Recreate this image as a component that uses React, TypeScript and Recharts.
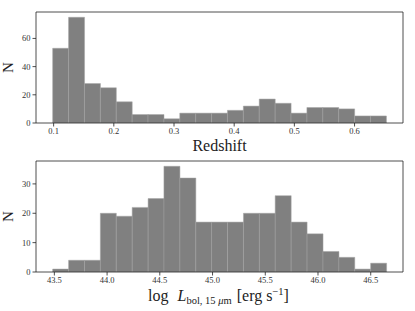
import React from 'react';
import { ComposedChart, Bar, XAxis, YAxis, ReferenceLine } from 'recharts';

// Redshift histogram (bin centres + counts)
const Z_BINS = [
  0.1116, 0.138, 0.1644, 0.1908, 0.2172, 0.2436, 0.27, 0.2964, 0.3228, 0.3492, 0.3756,
  0.402, 0.4284, 0.4548, 0.4812, 0.5076, 0.534, 0.5604, 0.5868, 0.6132, 0.6396,
];
const Z_COUNTS = [53, 75, 28, 25, 15, 6, 6, 3, 7, 7, 7, 9, 12, 17, 14, 7, 11, 11, 10, 5, 5];
const Z_TICKS = [0.1, 0.2, 0.3, 0.4, 0.5, 0.6];
const Z_N_TICKS = [0, 20, 40, 60];

// log L_bol histogram
const L_BINS = [
  43.559, 43.71, 43.861, 44.011, 44.162, 44.313, 44.464, 44.614, 44.765, 44.916, 45.066,
  45.217, 45.368, 45.519, 45.669, 45.82, 45.971, 46.122, 46.272, 46.423, 46.574,
];
const L_COUNTS = [1, 4, 4, 20, 19, 22, 25, 36, 32, 17, 17, 17, 20, 20, 26, 17, 13, 7, 5, 1, 3];
const L_TICKS = [43.5, 44.0, 44.5, 45.0, 45.5, 46.0, 46.5];
const L_N_TICKS = [0, 10, 20, 30];

const zData = Z_BINS.map((x, i) => ({ x, n: Z_COUNTS[i] }));
const lData = L_BINS.map((x, i) => ({ x, n: L_COUNTS[i] }));

const FONT = '"Liberation Serif", "DejaVu Serif", serif';
const INK = '#222';
const tickStyle = { fontSize: 8.5, fill: '#333', fontFamily: FONT };
const spine = { stroke: INK, strokeWidth: 0.8 };

const NLabel = (props: any) => {
  const vb = props.viewBox;
  const cx = vb.x + 8;
  const cy = vb.y + vb.height / 2;
  return (
    <text x={cx} y={cy} transform={`rotate(-90, ${cx}, ${cy})`} textAnchor="middle"
      dominantBaseline="central" fontFamily={FONT} fontSize={15} fill={INK}>N</text>
  );
};

const ZLabel = (props: any) => {
  const vb = props.viewBox;
  return (
    <text x={vb.x + vb.width / 2} y={vb.y + 28} textAnchor="middle"
      fontFamily={FONT} fontSize={16} fill={INK}>Redshift</text>
  );
};

const LLabel = (props: any) => {
  const vb = props.viewBox;
  return (
    <text x={vb.x + vb.width / 2 - 1} y={vb.y + 29} textAnchor="middle"
      fontFamily={FONT} fontSize={16} fill={INK}>
      <tspan>log</tspan>
      <tspan dx={9} fontStyle="italic">L</tspan>
      <tspan dy={3} fontSize={10.5}>bol, 15 </tspan>
      <tspan fontSize={10.5} fontStyle="italic">μ</tspan>
      <tspan fontSize={10.5}>m</tspan>
      <tspan dy={-3} dx={5}>[erg s</tspan>
      <tspan dy={-6} fontSize={10.5}>−1</tspan>
      <tspan dy={6}>]</tspan>
    </text>
  );
};

const Hist = ({ data, xDomain, yDomain, xTicks, yTicks, height, top, xHeight, fmt, xLabel }: any) => (
  <ComposedChart width={415} height={height} data={data} barCategoryGap={0} barGap={0}
    margin={{ top, right: 12, left: 0, bottom: 0 }}>
    <XAxis dataKey="x" type="number" domain={xDomain} ticks={xTicks} allowDataOverflow
      height={xHeight} tick={tickStyle} tickFormatter={fmt} tickSize={3.5} tickMargin={1.5}
      axisLine={spine} tickLine={spine} label={{ content: xLabel }} />
    <YAxis type="number" domain={yDomain} ticks={yTicks} allowDataOverflow width={36}
      tick={tickStyle} tickSize={3.5} tickMargin={2}
      axisLine={spine} tickLine={spine} label={{ content: NLabel }} />
    <Bar dataKey="n" fill="#808080" stroke="#a4a4a4" strokeWidth={0.5} isAnimationActive={false} />
    {/* top and right frame lines */}
    <ReferenceLine y={yDomain[1]} stroke={INK} strokeWidth={0.8} ifOverflow="visible" />
    <ReferenceLine x={xDomain[1]} stroke={INK} strokeWidth={0.8} ifOverflow="visible" />
  </ComposedChart>
);

export default function App() {
  return (
    <div style={{ position: 'absolute', left: 0, top: 0, width: 415, height: 311, background: '#fff' }}>
      <Hist data={zData} xDomain={[0.0707, 0.6805]} yDomain={[0, 78.75]} xTicks={Z_TICKS}
        yTicks={Z_N_TICKS} height={155} top={12} xHeight={32}
        fmt={(v: number) => v.toFixed(1)} xLabel={ZLabel} />
      <Hist data={lData} xDomain={[43.326, 46.806]} yDomain={[0, 37.8]} xTicks={L_TICKS}
        yTicks={L_N_TICKS} height={156} top={6} xHeight={39}
        fmt={(v: number) => v.toFixed(1)} xLabel={LLabel} />
    </div>
  );
}
